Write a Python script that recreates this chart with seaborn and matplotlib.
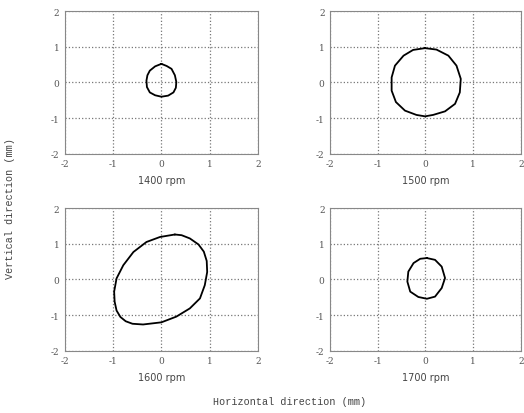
import numpy as np
import pandas as pd
import matplotlib
matplotlib.use("Agg")
import matplotlib.pyplot as plt
import seaborn as sns

# 궤적 데이터 (그림에서 읽은 값, mm)
speeds = ['1400 rpm', '1500 rpm', '1600 rpm', '1700 rpm']

x_1400 = [0.00, 0.11, 0.21, 0.28, 0.31, 0.30, 0.25, 0.14, 0.00, -0.13, -0.24, -0.30, -0.31, -0.29, -0.24, -0.13, 0.00]
y_1400 = [0.52, 0.46, 0.38, 0.20, 0.01, -0.15, -0.28, -0.37, -0.40, -0.36, -0.28, -0.13, 0.05, 0.20, 0.33, 0.45, 0.52]

x_1500 = [-0.01, 0.23, 0.48, 0.65, 0.74, 0.72, 0.62, 0.41, 0.16, -0.01, -0.19, -0.43, -0.62, -0.71, -0.71, -0.64, -0.46, -0.26, -0.01]
y_1500 = [0.96, 0.92, 0.75, 0.47, 0.10, -0.28, -0.60, -0.81, -0.91, -0.95, -0.91, -0.79, -0.55, -0.23, 0.14, 0.47, 0.75, 0.91, 0.96]

x_1600 = [0.28, -0.03, -0.31, -0.58, -0.79, -0.93, -0.98, -0.97, -0.93, -0.85, -0.74, -0.60, -0.38, 0.00, 0.31, 0.59, 0.80, 0.90, 0.95, 0.94, 0.88, 0.77, 0.59, 0.42, 0.28]
y_1600 = [1.26, 1.19, 1.05, 0.77, 0.40, 0.03, -0.34, -0.62, -0.87, -1.05, -1.17, -1.24, -1.26, -1.20, -1.04, -0.81, -0.53, -0.16, 0.21, 0.52, 0.78, 0.98, 1.15, 1.24, 1.26]

x_1700 = [0.03, 0.20, 0.34, 0.41, 0.34, 0.20, 0.03, -0.15, -0.32, -0.38, -0.36, -0.25, -0.11, 0.03]
y_1700 = [0.60, 0.55, 0.36, 0.04, -0.24, -0.48, -0.54, -0.49, -0.34, -0.06, 0.22, 0.46, 0.58, 0.60]

ticks = [-2, -1, 0, 1, 2]

orbits = [(x_1400, y_1400), (x_1500, y_1500), (x_1600, y_1600), (x_1700, y_1700)]

sns.set_style("white")
plt.rcParams['font.family'] = ['DejaVu Serif', 'DejaVu Sans']

fig = plt.figure(figsize=(5.24, 4.14), dpi=100)

# 각 패널 위치 (left, bottom, width, height)
positions = [[0.124, 0.626, 0.368, 0.345],
             [0.630, 0.626, 0.364, 0.345],
             [0.124, 0.150, 0.368, 0.345],
             [0.630, 0.150, 0.364, 0.345]]

for pos, (xs, ys), name in zip(positions, orbits, speeds):
    ax = fig.add_axes(pos)
    df = pd.DataFrame({'x': xs, 'y': ys, 'order': range(len(xs))})
    sns.lineplot(data=df, x='x', y='y', sort=False, estimator=None,
                 color='black', linewidth=1.3, ax=ax)
    ax.set_xlim(-2, 2)
    ax.set_ylim(-2, 2)
    ax.set_xticks(ticks)
    ax.set_yticks(ticks)
    ax.set_xticklabels([str(t) for t in ticks])
    ax.set_yticklabels([str(t) for t in ticks])
    ax.grid(True, linestyle=':', color='#777777', linewidth=0.9)
    ax.tick_params(axis='both', labelsize=6.5, length=0, pad=4, colors='#555555')
    for s in ax.spines.values():
        s.set_color('#888888')
        s.set_linewidth(0.8)
    ax.set_xlabel(name, fontsize=7, color='#444444', labelpad=5,
                  family=['DejaVu Sans'])
    ax.set_ylabel('')

fig.text(0.019, 0.497, 'Vertical direction (mm)', rotation=90, ha='center', va='center',
         fontsize=7.3, family=['Liberation Mono'], color='#444444')
fig.text(0.552, 0.029, 'Horizontal direction (mm)', ha='center', va='center',
         fontsize=7.3, family=['Liberation Mono'], color='#444444')

fig.savefig('out.png', dpi=100)
